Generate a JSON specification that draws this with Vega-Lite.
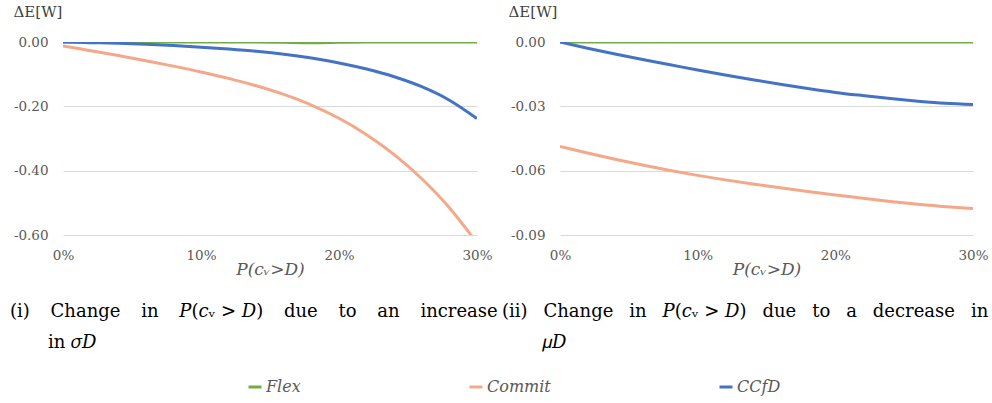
{
  "$schema": "https://vega.github.io/schema/vega-lite/v6.json",
  "padding": {"left": 10, "top": 4, "right": 5, "bottom": 5},
  "spacing": 83,
  "bounds": "flush",
  "datasets": {
    "curves": [
      {"panel": "i", "series": "Flex", "p": 0.00, "dE": 0},
      {"panel": "i", "series": "Flex", "p": 0.02, "dE": 0},
      {"panel": "i", "series": "Flex", "p": 0.04, "dE": 0},
      {"panel": "i", "series": "Flex", "p": 0.06, "dE": 0},
      {"panel": "i", "series": "Flex", "p": 0.08, "dE": 0},
      {"panel": "i", "series": "Flex", "p": 0.10, "dE": 0},
      {"panel": "i", "series": "Flex", "p": 0.12, "dE": 0},
      {"panel": "i", "series": "Flex", "p": 0.14, "dE": 0},
      {"panel": "i", "series": "Flex", "p": 0.16, "dE": -0.001},
      {"panel": "i", "series": "Flex", "p": 0.18, "dE": -0.002},
      {"panel": "i", "series": "Flex", "p": 0.20, "dE": -0.001},
      {"panel": "i", "series": "Flex", "p": 0.22, "dE": 0},
      {"panel": "i", "series": "Flex", "p": 0.24, "dE": 0},
      {"panel": "i", "series": "Flex", "p": 0.26, "dE": 0},
      {"panel": "i", "series": "Flex", "p": 0.28, "dE": 0},
      {"panel": "i", "series": "Flex", "p": 0.30, "dE": 0},
      {"panel": "i", "series": "Commit", "p": 0.00, "dE": -0.012},
      {"panel": "i", "series": "Commit", "p": 0.02, "dE": -0.027},
      {"panel": "i", "series": "Commit", "p": 0.04, "dE": -0.042},
      {"panel": "i", "series": "Commit", "p": 0.06, "dE": -0.058},
      {"panel": "i", "series": "Commit", "p": 0.08, "dE": -0.075},
      {"panel": "i", "series": "Commit", "p": 0.10, "dE": -0.093},
      {"panel": "i", "series": "Commit", "p": 0.12, "dE": -0.113},
      {"panel": "i", "series": "Commit", "p": 0.14, "dE": -0.136},
      {"panel": "i", "series": "Commit", "p": 0.16, "dE": -0.163},
      {"panel": "i", "series": "Commit", "p": 0.18, "dE": -0.196},
      {"panel": "i", "series": "Commit", "p": 0.20, "dE": -0.237},
      {"panel": "i", "series": "Commit", "p": 0.22, "dE": -0.288},
      {"panel": "i", "series": "Commit", "p": 0.24, "dE": -0.350},
      {"panel": "i", "series": "Commit", "p": 0.26, "dE": -0.425},
      {"panel": "i", "series": "Commit", "p": 0.28, "dE": -0.515},
      {"panel": "i", "series": "Commit", "p": 0.30, "dE": -0.625},
      {"panel": "i", "series": "CCfD", "p": 0.00, "dE": 0},
      {"panel": "i", "series": "CCfD", "p": 0.02, "dE": -0.002},
      {"panel": "i", "series": "CCfD", "p": 0.04, "dE": -0.004},
      {"panel": "i", "series": "CCfD", "p": 0.06, "dE": -0.007},
      {"panel": "i", "series": "CCfD", "p": 0.08, "dE": -0.011},
      {"panel": "i", "series": "CCfD", "p": 0.10, "dE": -0.016},
      {"panel": "i", "series": "CCfD", "p": 0.12, "dE": -0.022},
      {"panel": "i", "series": "CCfD", "p": 0.14, "dE": -0.029},
      {"panel": "i", "series": "CCfD", "p": 0.16, "dE": -0.038},
      {"panel": "i", "series": "CCfD", "p": 0.18, "dE": -0.050},
      {"panel": "i", "series": "CCfD", "p": 0.20, "dE": -0.065},
      {"panel": "i", "series": "CCfD", "p": 0.22, "dE": -0.084},
      {"panel": "i", "series": "CCfD", "p": 0.24, "dE": -0.108},
      {"panel": "i", "series": "CCfD", "p": 0.26, "dE": -0.139},
      {"panel": "i", "series": "CCfD", "p": 0.28, "dE": -0.181},
      {"panel": "i", "series": "CCfD", "p": 0.30, "dE": -0.238},
      {"panel": "ii", "series": "Flex", "p": 0.00, "dE": 0},
      {"panel": "ii", "series": "Flex", "p": 0.02, "dE": 0},
      {"panel": "ii", "series": "Flex", "p": 0.04, "dE": 0},
      {"panel": "ii", "series": "Flex", "p": 0.06, "dE": 0},
      {"panel": "ii", "series": "Flex", "p": 0.08, "dE": 0},
      {"panel": "ii", "series": "Flex", "p": 0.10, "dE": 0},
      {"panel": "ii", "series": "Flex", "p": 0.12, "dE": 0},
      {"panel": "ii", "series": "Flex", "p": 0.14, "dE": 0},
      {"panel": "ii", "series": "Flex", "p": 0.16, "dE": 0},
      {"panel": "ii", "series": "Flex", "p": 0.18, "dE": 0},
      {"panel": "ii", "series": "Flex", "p": 0.20, "dE": 0},
      {"panel": "ii", "series": "Flex", "p": 0.22, "dE": 0},
      {"panel": "ii", "series": "Flex", "p": 0.24, "dE": 0},
      {"panel": "ii", "series": "Flex", "p": 0.26, "dE": 0},
      {"panel": "ii", "series": "Flex", "p": 0.28, "dE": 0},
      {"panel": "ii", "series": "Flex", "p": 0.30, "dE": 0},
      {"panel": "ii", "series": "Commit", "p": 0.00, "dE": -0.0487},
      {"panel": "ii", "series": "Commit", "p": 0.02, "dE": -0.0518},
      {"panel": "ii", "series": "Commit", "p": 0.04, "dE": -0.0547},
      {"panel": "ii", "series": "Commit", "p": 0.06, "dE": -0.0574},
      {"panel": "ii", "series": "Commit", "p": 0.08, "dE": -0.0599},
      {"panel": "ii", "series": "Commit", "p": 0.10, "dE": -0.0622},
      {"panel": "ii", "series": "Commit", "p": 0.12, "dE": -0.0643},
      {"panel": "ii", "series": "Commit", "p": 0.14, "dE": -0.0662},
      {"panel": "ii", "series": "Commit", "p": 0.16, "dE": -0.0680},
      {"panel": "ii", "series": "Commit", "p": 0.18, "dE": -0.0697},
      {"panel": "ii", "series": "Commit", "p": 0.20, "dE": -0.0713},
      {"panel": "ii", "series": "Commit", "p": 0.22, "dE": -0.0729},
      {"panel": "ii", "series": "Commit", "p": 0.24, "dE": -0.0744},
      {"panel": "ii", "series": "Commit", "p": 0.26, "dE": -0.0757},
      {"panel": "ii", "series": "Commit", "p": 0.28, "dE": -0.0768},
      {"panel": "ii", "series": "Commit", "p": 0.30, "dE": -0.0776},
      {"panel": "ii", "series": "CCfD", "p": 0.00, "dE": 0},
      {"panel": "ii", "series": "CCfD", "p": 0.02, "dE": -0.0029},
      {"panel": "ii", "series": "CCfD", "p": 0.04, "dE": -0.0056},
      {"panel": "ii", "series": "CCfD", "p": 0.06, "dE": -0.0082},
      {"panel": "ii", "series": "CCfD", "p": 0.08, "dE": -0.0106},
      {"panel": "ii", "series": "CCfD", "p": 0.10, "dE": -0.0131},
      {"panel": "ii", "series": "CCfD", "p": 0.12, "dE": -0.0154},
      {"panel": "ii", "series": "CCfD", "p": 0.14, "dE": -0.0176},
      {"panel": "ii", "series": "CCfD", "p": 0.16, "dE": -0.0197},
      {"panel": "ii", "series": "CCfD", "p": 0.18, "dE": -0.0217},
      {"panel": "ii", "series": "CCfD", "p": 0.20, "dE": -0.0235},
      {"panel": "ii", "series": "CCfD", "p": 0.22, "dE": -0.0250},
      {"panel": "ii", "series": "CCfD", "p": 0.24, "dE": -0.0264},
      {"panel": "ii", "series": "CCfD", "p": 0.26, "dE": -0.0276},
      {"panel": "ii", "series": "CCfD", "p": 0.28, "dE": -0.0286},
      {"panel": "ii", "series": "CCfD", "p": 0.30, "dE": -0.0292}
    ]
  },
  "data": {"name": "curves"},
  "hconcat": [
    {
      "width": 414,
      "height": 193,
      "transform": [{"filter": "datum.panel == 'i'"}],
      "title": {
        "text": [
          "(i) \u00a0\u00a0\u2009Change \u00a0\u00a0\u2009in \u00a0\u00a0\u2009𝑃(𝑐ᵥ > 𝐷) \u00a0\u00a0\u2009due \u00a0\u00a0\u2009to \u00a0\u00a0\u2009an \u00a0\u00a0\u2009increase",
          "\u200b\u00a0\u00a0\u00a0\u00a0\u00a0\u00a0\u2009in 𝜎𝐷"
        ],
        "dx": -53
      },
      "mark": {"type": "line", "strokeWidth": 3, "interpolate": "monotone", "clip": true},
      "encoding": {
        "x": {
          "field": "p", "type": "quantitative",
          "scale": {"domain": [0, 0.3], "nice": false},
          "axis": {"values": [0, 0.1, 0.2, 0.3], "format": ".0%", "title": "P(cᵥ>D)"}
        },
        "y": {
          "field": "dE", "type": "quantitative",
          "scale": {"domain": [-0.6, 0], "nice": false, "zero": false},
          "axis": {"values": [0, -0.2, -0.4, -0.6], "format": ".2f", "title": "ΔE[W]"}
        },
        "color": {
          "field": "series", "type": "nominal",
          "scale": {"domain": ["Flex", "Commit", "CCfD"], "range": ["#70AD47", "#F4A889", "#4472C4"]},
          "legend": {
            "orient": "none", "legendX": 184, "legendY": 337, "direction": "horizontal", "title": null
          }
        }
      }
    },
    {
      "width": 413,
      "height": 193,
      "transform": [{"filter": "datum.panel == 'ii'"}],
      "title": {
        "text": [
          "(ii) \u00a0\u2005Change \u00a0\u2005in \u00a0\u2005𝑃(𝑐ᵥ > 𝐷) \u00a0\u2005due \u00a0\u2005to \u00a0\u2005a \u00a0\u2005decrease \u00a0\u2005in",
          "\u200b\u00a0\u00a0\u00a0\u00a0\u00a0\u00a0\u00a0𝜇𝐷"
        ],
        "dx": -58
      },
      "mark": {"type": "line", "strokeWidth": 3, "interpolate": "monotone", "clip": true},
      "encoding": {
        "x": {
          "field": "p", "type": "quantitative",
          "scale": {"domain": [0, 0.3], "nice": false},
          "axis": {"values": [0, 0.1, 0.2, 0.3], "format": ".0%", "title": "P(cᵥ>D)"}
        },
        "y": {
          "field": "dE", "type": "quantitative",
          "scale": {"domain": [-0.09, 0], "nice": false, "zero": false},
          "axis": {"values": [0, -0.03, -0.06, -0.09], "format": ".2f", "title": "ΔE[W]", "titleX": -52}
        },
        "color": {
          "field": "series", "type": "nominal",
          "scale": {"domain": ["Flex", "Commit", "CCfD"], "range": ["#70AD47", "#F4A889", "#4472C4"]}
        }
      }
    }
  ],
  "config": {
    "view": {"stroke": null},
    "title": {
      "orient": "bottom", "anchor": "start", "frame": "group",
      "font": "DejaVu Serif", "fontSize": 18, "fontWeight": "normal", "color": "#000000",
      "lineHeight": 31, "offset": 25
    },
    "axis": {
      "domain": false, "ticks": false,
      "labelFont": "DejaVu Serif", "labelFontSize": 13.5, "labelColor": "#595959",
      "labelExpr": "replace(datum.label, '\u2212', '-')",
      "gridColor": "#D9D9D9", "gridWidth": 1
    },
    "axisX": {
      "grid": false, "labelPadding": 13, "labelFlush": false,
      "titleFont": "DejaVu Serif", "titleFontStyle": "italic", "titleFontWeight": "normal",
      "titleFontSize": 17, "titleColor": "#595959", "titlePadding": 0
    },
    "axisY": {
      "labelPadding": 15,
      "titleAngle": 0, "titleAlign": "left", "titleBaseline": "middle",
      "titleX": -50, "titleY": -31,
      "titleFont": "DejaVu Serif", "titleFontWeight": "normal", "titleFontSize": 15, "titleColor": "#404040"
    },
    "legend": {
      "symbolType": "stroke", "symbolStrokeWidth": 3, "symbolSize": 169,
      "labelFont": "DejaVu Serif", "labelFontStyle": "italic", "labelFontSize": 16, "labelColor": "#595959",
      "labelOffset": 3, "columnPadding": 162
    }
  }
}
